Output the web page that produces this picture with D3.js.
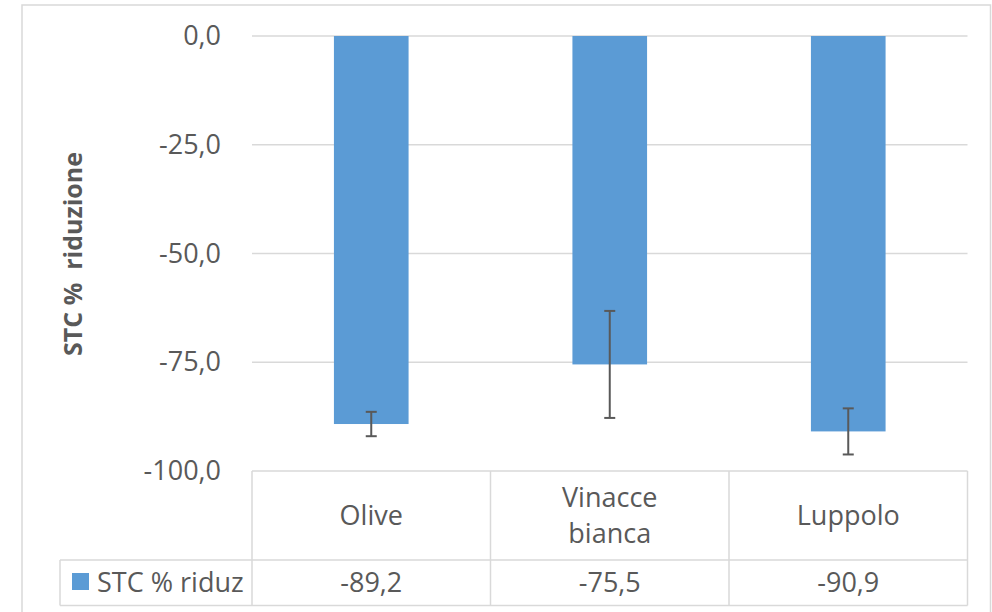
<!DOCTYPE html>
<html><head><meta charset="utf-8">
<script src="https://cdn.jsdelivr.net/npm/d3@7"></script>
<style>html,body{margin:0;padding:0;background:#fff;}svg{display:block;}</style>
</head><body>
<script>
const categories = ["Olive", "Vinacce bianca", "Luppolo"];
const categoryLines = [["Olive"], ["Vinacce", "bianca"], ["Luppolo"]];
const values = [-89.2, -75.5, -90.9];
const errors = [2.8, 12.3, 5.3];
const yTicks = [0, -25, -50, -75, -100];
const seriesName = "STC % riduz";
const yTitle = "STC %  riduzione";

const W = 992, H = 612;
const textColor = "#595959", gridColor = "#d9d9d9", barColor = "#5b9bd5";
const font = "'Open Sans', 'Segoe UI', sans-serif";
const fmt = v => d3.format(".1f")(v).replace("−", "-").replace(".", ",");

const svg = d3.select("body").append("svg").attr("width", W).attr("height", H);

// outer chart border
svg.append("rect").attr("x", 22).attr("y", 5).attr("width", 968.5).attr("height", 620)
  .attr("fill", "none").attr("stroke", gridColor).attr("stroke-width", 1.5);

const plotL = 252, plotR = 967.5, tableTop = 471, catRowBottom = 560, tableBottom = 605.5, legendL = 60;
const y = d3.scaleLinear().domain([-100, 0]).range([tableTop, 36]);
const x = d3.scaleBand().domain(categories).range([plotL, plotR]).paddingInner(0.687).paddingOuter(0.3435);
const col = d3.scaleBand().domain(categories).range([plotL, plotR]).padding(0);

// gridlines
svg.append("g").selectAll("line").data(yTicks.filter(t => t > -100)).join("line")
  .attr("x1", plotL).attr("x2", plotR)
  .attr("y1", d => y(d)).attr("y2", d => y(d))
  .attr("stroke", gridColor).attr("stroke-width", 1.5);

// y axis labels
const yAxis = d3.axisLeft(y).tickValues(yTicks).tickFormat(fmt).tickSize(0).tickPadding(0);
const gy = svg.append("g").attr("transform", "translate(221,0)").call(yAxis);
gy.select(".domain").remove();
gy.selectAll("text").attr("fill", textColor).attr("font-family", font).attr("font-size", 27);

// y title
svg.append("text").attr("transform", `translate(82,254) rotate(-90)`)
  .attr("text-anchor", "middle").attr("font-family", font).attr("font-weight", "bold")
  .attr("font-size", 25).attr("fill", textColor).attr("xml:space", "preserve").text(yTitle);

// bars
svg.append("g").selectAll("rect").data(categories).join("rect")
  .attr("x", d => x(d)).attr("width", x.bandwidth())
  .attr("y", (d, i) => y(0)).attr("height", (d, i) => y(values[i]) - y(0))
  .attr("fill", barColor);

// error bars
const eb = svg.append("g").attr("stroke", "#595959").attr("stroke-width", 2);
categories.forEach((c, i) => {
  const cx = x(c) + x.bandwidth() / 2;
  const y1 = y(values[i] + errors[i]), y2 = y(values[i] - errors[i]);
  eb.append("line").attr("x1", cx).attr("x2", cx).attr("y1", y1).attr("y2", y2);
  eb.append("line").attr("x1", cx - 5.5).attr("x2", cx + 5.5).attr("y1", y1).attr("y2", y1);
  eb.append("line").attr("x1", cx - 5.5).attr("x2", cx + 5.5).attr("y1", y2).attr("y2", y2);
});

// data table
const tg = svg.append("g").attr("stroke", gridColor).attr("stroke-width", 1.5).attr("fill", "none");
tg.append("line").attr("x1", plotL).attr("x2", plotR).attr("y1", tableTop).attr("y2", tableTop);
tg.append("line").attr("x1", legendL).attr("x2", plotR).attr("y1", catRowBottom).attr("y2", catRowBottom);
tg.append("line").attr("x1", legendL).attr("x2", plotR).attr("y1", tableBottom).attr("y2", tableBottom);
tg.append("line").attr("x1", legendL).attr("x2", legendL).attr("y1", catRowBottom).attr("y2", tableBottom);
[...categories.map(c => col(c)), plotR].forEach(xx => {
  tg.append("line").attr("x1", xx).attr("x2", xx).attr("y1", tableTop).attr("y2", tableBottom);
});

// category text
categories.forEach((c, i) => {
  const lines = categoryLines[i];
  const cx = col(c) + col.bandwidth() / 2;
  const cy = (tableTop + catRowBottom) / 2;
  const lh = 36;
  lines.forEach((t, k) => {
    svg.append("text").attr("x", cx).attr("y", cy + (k - (lines.length - 1) / 2) * lh)
      .attr("dy", "0.35em").attr("text-anchor", "middle").attr("font-family", font)
      .attr("font-size", 27).attr("fill", textColor).text(t);
  });
  svg.append("text").attr("x", cx).attr("y", (catRowBottom + tableBottom) / 2)
    .attr("dy", "0.35em").attr("text-anchor", "middle").attr("font-family", font)
    .attr("font-size", 27).attr("fill", textColor).text(fmt(values[i]));
});

// legend cell
svg.append("defs").append("clipPath").attr("id", "legclip").append("rect")
  .attr("x", legendL).attr("y", catRowBottom).attr("width", plotL - legendL - 4).attr("height", tableBottom - catRowBottom);
svg.append("rect").attr("x", 72).attr("y", 573).attr("width", 17).attr("height", 17).attr("fill", barColor);
svg.append("text").attr("clip-path", "url(#legclip)").attr("x", 97).attr("y", (catRowBottom + tableBottom) / 2)
  .attr("dy", "0.35em").attr("font-family", font).attr("font-size", 27).attr("fill", textColor).text(seriesName);
</script>
</body></html>
